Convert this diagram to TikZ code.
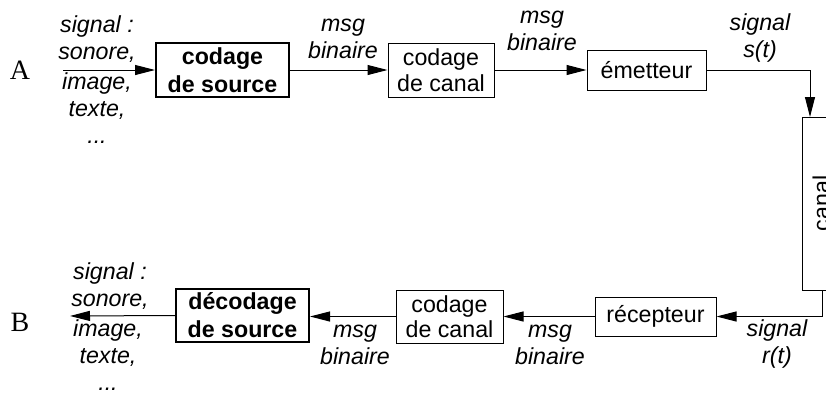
\documentclass[tikz,border=0pt]{standalone}
\usepackage{fontspec}
\setmainfont{Liberation Sans}
\newfontfamily\serifA{Liberation Serif}
\usetikzlibrary{arrows.meta}
\begin{document}
\begin{tikzpicture}[x=0.5pt,y=-0.5pt,
  box/.style={draw, line width=0.5pt, inner sep=0, align=center, font=\fontsize{11.6}{12.75}\selectfont},
  boldbox/.style={draw, line width=1pt, inner sep=0, align=center, font=\fontsize{11.6}{14}\selectfont\bfseries},
  lbl/.style={inner sep=0, align=center, font=\fontsize{11.6}{13.5}\selectfont\itshape},
  letter/.style={inner sep=0, font=\serifA\fontsize{14}{16}\selectfont},
  arr/.style={-{Triangle[length=10pt,width=5pt]}, line width=0.5pt}]
\useasboundingbox (0,0) rectangle (826,392);

% boxes
\node[boldbox, minimum width=66.5pt, minimum height=27pt] (src) at (222.5,70) {codage\\de source};
\node[box, minimum width=53pt, minimum height=27pt] (can1) at (441,70) {codage\\de canal};
\node[box, minimum width=59.5pt, minimum height=20pt] (emet) at (646.5,70) {émetteur};
\node[draw, line width=0.5pt, minimum width=24pt, minimum height=86.5pt, inner sep=0] (canal) at (826,203.5) {};
\node[inner sep=0, rotate=90, font=\fontsize{11.6}{13}\selectfont] (canaltxt) at (821,203.5) {canal};
\node[box, minimum width=60.5pt, minimum height=19.5pt] (recep) at (655.5,316.5) {récepteur};
\node[box, minimum width=53.5pt, minimum height=26.5pt] (can2) at (449.5,316.5) {codage\\de canal};
\node[boldbox, minimum width=66.5pt, minimum height=26.5pt] (dec) at (242.5,315.5) {décodage\\de source};

% free ends
\coordinate (in) at (63,70);
\coordinate (out) at (70,316);
\coordinate (chin) at (810,117);
\coordinate (chout) at (822,290);

% connectors
\draw[arr] (in) -- (src.west);
\draw[arr] (src.east) -- (can1.west);
\draw[arr] (can1.east) -- (emet.west);
\draw[arr] (emet.east) -| (chin);
\draw[arr] (chout) |- (recep.east);
\draw[arr] (recep.west) -- (recep.west -| can2.east);
\draw[arr] (can2.west) -- (can2.west -| dec.east);
\draw[arr] (dec.west) -- (out);

% labels
\node[letter] (A) at (20,70) {A};
\node[letter] (B) at (20,322) {B};
\node[lbl] (l1) at (97,39) {signal :\\sonore,};
\node[lbl] (l2) at (97,108) {image,\\texte,\\...};
\node[lbl] (l3) at (343,38.5) {msg\\binaire};
\node[lbl] (l4) at (542,30.5) {msg\\binaire};
\node[lbl] (l5) at (760,38) {signal\\s(t)};
\node[lbl] (l6) at (777,343.5) {signal\\r(t)};
\node[lbl] (l7) at (550,345) {msg\\binaire};
\node[lbl] (l8) at (355,345) {msg\\binaire};
\node[lbl] (l9) at (110,286) {signal :\\sonore,};
\node[lbl] (l10) at (108,355) {image,\\texte,\\...};
\end{tikzpicture}
\end{document}
